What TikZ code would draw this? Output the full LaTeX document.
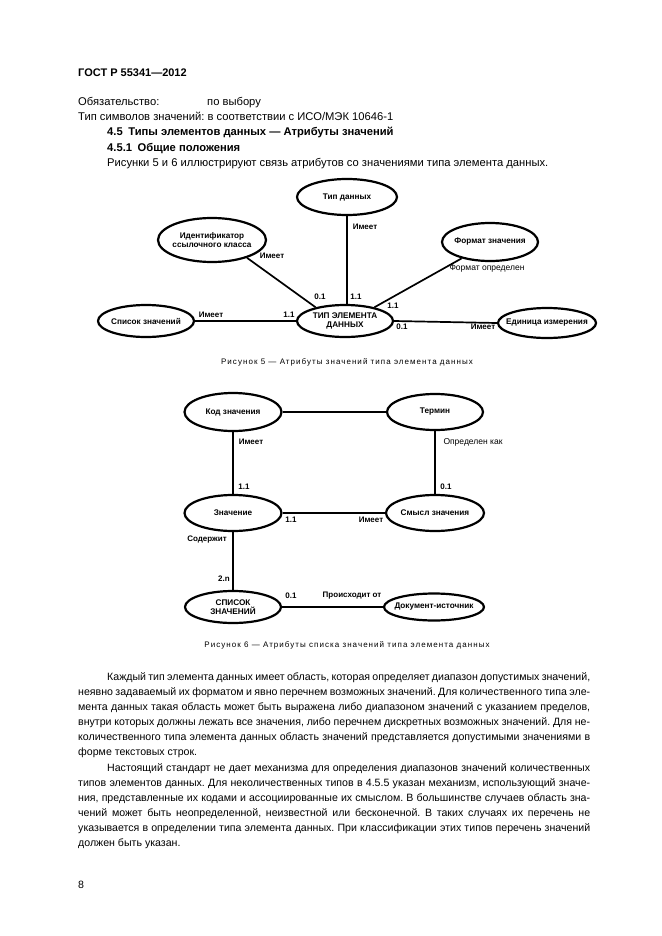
\documentclass[tikz,border=0pt]{standalone}
\usepackage{fontspec}
\setmainfont{Liberation Sans}
\usetikzlibrary{shapes.geometric}
\newcommand\jl[2]{\hbox to #1{#2}}
\frenchspacing
\begin{document}
\begin{tikzpicture}[x=1pt,y=-1pt,
  txt/.style={anchor=base west, inner sep=0pt, font=\fontsize{11.2}{12}\selectfont},
  bod/.style={anchor=base west, inner sep=0pt, font=\fontsize{10.6}{12}\selectfont},
  hd/.style={anchor=base west, inner sep=0pt, font=\bfseries\fontsize{11.2}{12}\selectfont},
  dtext/.style={font=\bfseries\fontsize{8.2}{8.7}\selectfont, align=center, inner sep=0pt},
  ell/.style n args={3}{draw, ellipse, line width=2.2pt, inner sep=0pt, minimum width=#1, minimum height=#2, label={[dtext]center:#3}},
  lab/.style={font=\bfseries\fontsize{8}{9}\selectfont, inner sep=0pt},
  labr/.style={font=\fontsize{8.5}{9}\selectfont, inner sep=0pt},
  conn/.style={line width=1.7pt},
  figcap/.style={font=\fontsize{8}{9}\selectfont\addfontfeature{LetterSpace=13}, inner sep=0pt}
]
\useasboundingbox (0,0) rectangle (661,936);
\fill[white] (0,0) rectangle (661,936);

% header
\node[hd, font=\bfseries\fontsize{11}{12}\selectfont] (h0) at (78,77) {ГОСТ Р 55341—2012};
\node[txt] (h1) at (78,106) {Обязательство:};
\node[txt] (h1b) at (207,106) {по выбору};
\node[txt] (h2) at (78,121) {Тип символов значений: в соответствии с ИСО/МЭК 10646-1};
\node[hd] (h3) at (107,136) {4.5\enspace Типы элементов данных — Атрибуты значений};
\node[hd] (h4) at (107,152) {4.5.1\enspace Общие положения};
\node[txt] (h5) at (107,167) {Рисунки 5 и 6 иллюстрируют связь атрибутов со значениями типа элемента данных.};

% figure 5
\node[ell={100pt}{36pt}{Тип данных}] (tipd) at (347,197) {};
\node[ell={108pt}{44pt}{Идентификатор\\ссылочного класса}] (ident) at (212,240) {};
\node[ell={96pt}{38pt}{Формат значения}] (fmt) at (490,242) {};
\node[ell={96pt}{32pt}{Список значений}] (spis) at (146,321) {};
\node[ell={96pt}{32pt}{ТИП ЭЛЕМЕНТА\\ДАННЫХ}] (tip) at (345,321) {};
\node[ell={98pt}{30pt}{Единица измерения}] (edin) at (547,323) {};

\draw[conn] (tipd.south) -- (tip.north -| tipd.south);
\draw[conn] (ident.-27) -- (tip.155);
\draw[conn] (fmt.-150) -- (tip.25);
\draw[conn] (spis) -- (tip);
\draw[conn] (tip.east) -- (edin.west);

\node[lab] (a1) at (365,227) {Имеет};
\node[lab] (a2) at (272,256) {Имеет};
\node[lab] (a3) at (320,297) {0.1};
\node[lab] (a4) at (356,297) {1.1};
\node[lab] (a5) at (393,306) {1.1};
\node[labr] (a6) at (487,268) {Формат определен};
\node[lab] (a7) at (211,315) {Имеет};
\node[lab] (a8) at (289,315) {1.1};
\node[lab] (a9) at (402,327) {0.1};
\node[lab] (a10) at (483,327) {Имеет};

\node[figcap] (c5) at (347,362) {Рисунок 5 — Атрибуты значений типа элемента данных};

% figure 6
\node[ell={97pt}{38pt}{Код значения}] (kod) at (233,412) {};
\node[ell={96pt}{36pt}{Термин}] (term) at (435,412) {};
\node[ell={97pt}{36pt}{Значение}] (zn) at (233,513) {};
\node[ell={98pt}{36pt}{Смысл значения}] (sm) at (435,513) {};
\node[ell={96pt}{32pt}{СПИСОК\\ЗНАЧЕНИЙ}] (sp2) at (233,607) {};
\node[ell={100pt}{27pt}{Документ-источник}] (dok) at (434,607) {};

\draw[conn] (kod) -- (term);
\draw[conn] (kod) -- (zn);
\draw[conn] (term) -- (sm);
\draw[conn] (zn) -- (sm);
\draw[conn] (zn) -- (sp2);
\draw[conn] (sp2) -- (dok);

\node[lab] (b1) at (251,442) {Имеет};
\node[lab] (b2) at (244,487) {1.1};
\node[labr] (b3) at (473,442) {Определен как};
\node[lab] (b4) at (446,487) {0.1};
\node[lab] (b5) at (291,520) {1.1};
\node[lab] (b6) at (371,520) {Имеет};
\node[lab] (b7) at (207,540) {Содержит};
\node[lab] (b8) at (224,579) {2.n};
\node[lab] (b9) at (291,596) {0.1};
\node[lab] (b10) at (352,596) {Происходит от};

\node[figcap] (c6) at (347,645) {Рисунок 6 — Атрибуты списка значений типа элемента данных};

% body text
\node[bod] (p1) at (107,680) {\jl{483pt}{Каждый тип элемента данных имеет область, которая определяет диапазон допустимых значений,}};
\node[bod] (p2) at (78,695) {\jl{512pt}{неявно задаваемый их форматом и явно перечнем возможных значений. Для количественного типа эле-}};
\node[bod] (p3) at (78,710) {\jl{512pt}{мента данных такая область может быть выражена либо диапазоном значений с указанием пределов,}};
\node[bod] (p4) at (78,725) {\jl{512pt}{внутри которых должны лежать все значения, либо перечнем дискретных возможных значений. Для не-}};
\node[bod] (p5) at (78,740) {\jl{512pt}{количественного типа элемента данных область значений представляется допустимыми значениями в}};
\node[bod] (p6) at (78,755) {форме текстовых строк.};

\node[bod] (q1) at (107,771) {\jl{483pt}{Настоящий стандарт не дает механизма для определения диапазонов значений количественных}};
\node[bod] (q2) at (78,786) {\jl{512pt}{типов элементов данных. Для неколичественных типов в 4.5.5 указан механизм, использующий значе-}};
\node[bod] (q3) at (78,801) {\jl{512pt}{ния, представленные их кодами и ассоциированные их смыслом. В большинстве случаев область зна-}};
\node[bod] (q4) at (78,816) {\jl{512pt}{чений может быть неопределенной, неизвестной или бесконечной. В таких случаях их перечень не}};
\node[bod] (q5) at (78,831) {\jl{512pt}{указывается в определении типа элемента данных. При классификации этих типов перечень значений}};
\node[bod] (q6) at (78,846) {должен быть указан.};

\node[bod] (pg) at (78,888) {8};
\end{tikzpicture}
\end{document}
